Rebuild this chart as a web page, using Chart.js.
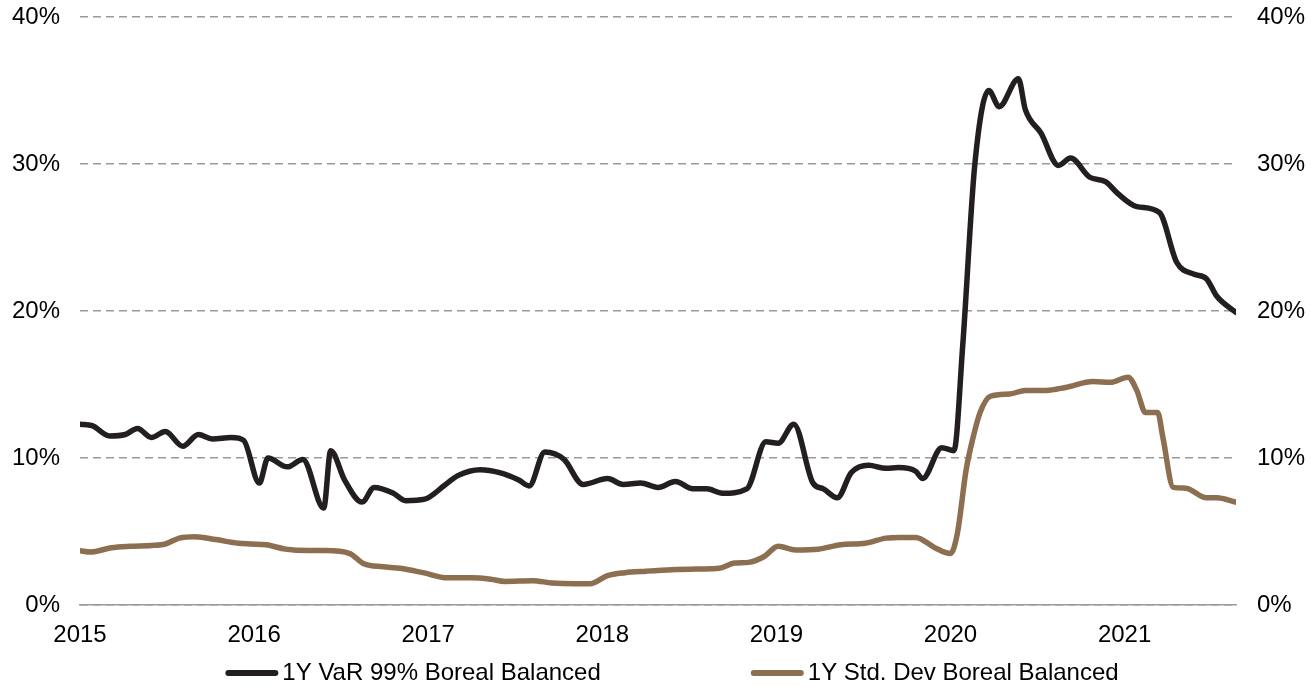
<!DOCTYPE html>
<html>
<head>
<meta charset="utf-8">
<script src="https://cdn.jsdelivr.net/npm/chart.js@4.4.0/dist/chart.umd.min.js"></script>
<style>
  html, body { margin: 0; padding: 0; background: #ffffff; }
</style>
</head>
<body>
<canvas id="chart" width="1311" height="686"></canvas>
<script>
// values (x as decimal years, y in %)
const varDates = [
  2015.00, 2015.07, 2015.17, 2015.26, 2015.33, 2015.41, 2015.49, 2015.59, 2015.68, 2015.76,
  2015.87, 2015.94, 2016.03, 2016.08, 2016.19, 2016.28, 2016.40, 2016.44, 2016.52, 2016.62,
  2016.69, 2016.80, 2016.87, 2016.98, 2017.10, 2017.17, 2017.30, 2017.41, 2017.52, 2017.58,
  2017.67, 2017.78, 2017.89, 2018.03, 2018.12, 2018.22, 2018.32, 2018.42, 2018.52, 2018.60,
  2018.69, 2018.83, 2018.94, 2019.01, 2019.10, 2019.21, 2019.27, 2019.35, 2019.43, 2019.53,
  2019.63, 2019.70, 2019.80, 2019.84, 2019.95, 2020.02, 2020.07, 2020.14, 2020.22, 2020.28,
  2020.39, 2020.43, 2020.52, 2020.62, 2020.69, 2020.80, 2020.89, 2020.96, 2021.07, 2021.20,
  2021.30, 2021.40, 2021.47, 2021.53, 2021.64
];
const varValues = [
  12.3, 12.2, 11.5, 11.6, 12.0, 11.4, 11.8, 10.8, 11.6, 11.3,
  11.4, 11.2, 8.3, 10.0, 9.4, 9.9, 6.6, 10.5, 8.5, 7.0,
  8.0, 7.6, 7.1, 7.2, 8.2, 8.8, 9.2, 9.0, 8.5, 8.1,
  10.4, 9.9, 8.2, 8.6, 8.2, 8.3, 8.0, 8.4, 7.9, 7.9,
  7.6, 7.9, 11.1, 11.0, 12.3, 8.3, 7.9, 7.3, 9.0, 9.5,
  9.3, 9.35, 9.1, 8.6, 10.7, 10.5, 17.6, 30.0, 35.0, 33.9,
  35.8, 33.7, 32.1, 29.9, 30.4, 29.1, 28.8, 28.0, 27.1, 26.7,
  23.3, 22.5, 22.2, 21.0, 19.9
];
const sdDates = [
  2015.00, 2015.06, 2015.18, 2015.29, 2015.41, 2015.49, 2015.57, 2015.66, 2015.78, 2015.91,
  2015.98, 2016.07, 2016.18, 2016.31, 2016.41, 2016.55, 2016.63, 2016.74, 2016.84, 2016.97,
  2017.11, 2017.25, 2017.36, 2017.44, 2017.60, 2017.71, 2017.84, 2017.93, 2018.03, 2018.13,
  2018.25, 2018.40, 2018.56, 2018.67, 2018.76, 2018.84, 2018.93, 2019.01, 2019.11, 2019.24,
  2019.37, 2019.51, 2019.63, 2019.71, 2019.80, 2019.91, 2020.00, 2020.04, 2020.09, 2020.13,
  2020.17, 2020.23, 2020.34, 2020.43, 2020.55, 2020.66, 2020.82, 2020.92, 2021.02, 2021.07,
  2021.12, 2021.19, 2021.22, 2021.28, 2021.35, 2021.47, 2021.53, 2021.64
];
const sdValues = [
  3.7, 3.6, 3.9, 4.0, 4.05, 4.15, 4.55, 4.65, 4.45, 4.2,
  4.15, 4.1, 3.8, 3.7, 3.7, 3.5, 2.8, 2.6, 2.5, 2.2,
  1.85, 1.85, 1.75, 1.6, 1.65, 1.5, 1.45, 1.45, 2.0, 2.2,
  2.3, 2.4, 2.45, 2.5, 2.85, 2.9, 3.3, 4.0, 3.75, 3.8,
  4.1, 4.2, 4.55, 4.6, 4.6, 3.9, 3.5, 4.9, 9.2, 11.4,
  13.1, 14.2, 14.35, 14.6, 14.6, 14.8, 15.2, 15.15, 15.5, 14.6,
  13.1, 13.1, 11.4, 8.0, 7.95, 7.3, 7.3, 7.0
];
const yearTicks = [2015, 2016, 2017, 2018, 2019, 2020, 2021];
const seriesLabels = ["1Y VaR 99% Boreal Balanced", "1Y Std. Dev Boreal Balanced"];

const FONT_FAMILY = "'Liberation Sans', Arial, sans-serif";
const FONT_SIZE = 24;
const GRID = "#9a9a9a";

const toPoints = (xs, ys) => xs.map((x, i) => ({ x: x, y: ys[i] }));

// keep the plot top at 17px, the tick padding would otherwise push it down
const fixVertical = (width) => (scale) => {
  scale.width = width;
  scale.paddingTop = 17;
  scale.paddingBottom = 0;
};

const bottomLegend = {
  id: "bottomLegend",
  afterDraw(chart) {
    const ctx = chart.ctx;
    const sets = chart.data.datasets;
    ctx.save();
    ctx.font = FONT_SIZE + "px " + FONT_FAMILY;
    const sample = 53, textGap = 4, itemGap = 150;
    const widths = sets.map(d => ctx.measureText(d.label).width);
    const total = widths.reduce((a, w) => a + sample + textGap + w, 0) + itemGap * (sets.length - 1);
    let x = 672 - total / 2;
    const y = 673;
    sets.forEach((d, i) => {
      ctx.strokeStyle = d.borderColor;
      ctx.lineWidth = 6;
      ctx.lineCap = "round";
      ctx.beginPath();
      ctx.moveTo(x + 3, y);
      ctx.lineTo(x + sample - 3, y);
      ctx.stroke();
      x += sample + textGap;
      ctx.fillStyle = "#000000";
      ctx.textBaseline = "middle";
      ctx.textAlign = "left";
      ctx.fillText(d.label, x, y);
      x += widths[i] + itemGap;
    });
    ctx.restore();
  }
};

const ctx = document.getElementById("chart").getContext("2d");
const myChart = new Chart(ctx, {
  type: "line",
  data: {
    datasets: [
      {
        label: seriesLabels[0],
        data: toPoints(varDates, varValues),
        borderColor: "#231f20",
        borderWidth: 5.5,
        borderCapStyle: "round",
        borderJoinStyle: "round",
        cubicInterpolationMode: "monotone",
        pointRadius: 0,
        fill: false,
        yAxisID: "y",
      },
      {
        label: seriesLabels[1],
        data: toPoints(sdDates, sdValues),
        borderColor: "#8b6f50",
        borderWidth: 5.5,
        borderCapStyle: "round",
        borderJoinStyle: "round",
        cubicInterpolationMode: "monotone",
        pointRadius: 0,
        fill: false,
        yAxisID: "y",
      },
    ],
  },
  options: {
    responsive: false,
    animation: false,
    layout: { padding: 0 },
    plugins: {
      legend: { display: false },
      tooltip: { enabled: false },
    },
    scales: {
      x: {
        type: "linear",
        min: 2015,
        max: 2021.64,
        afterBuildTicks: (scale) => {
          scale.ticks = yearTicks.map(v => ({ value: v }));
        },
        afterFit: (scale) => { scale.height = 81; },
        grid: { display: false },
        border: { display: true, color: GRID, width: 1.5 },
        ticks: {
          autoSkip: false,
          maxRotation: 0,
          padding: 8,
          color: "#000000",
          font: { family: FONT_FAMILY, size: FONT_SIZE },
          callback: (v) => String(v),
        },
      },
      y: {
        position: "left",
        min: 0,
        max: 40,
        afterFit: fixVertical(80),
        grid: { color: GRID, lineWidth: 1.5, drawTicks: false },
        border: { display: false, dash: [8, 5] },
        ticks: {
          stepSize: 10,
          padding: 20,
          color: "#000000",
          font: { family: FONT_FAMILY, size: FONT_SIZE },
          callback: (v) => v + "%",
        },
      },
      y2: {
        position: "right",
        min: 0,
        max: 40,
        afterFit: fixVertical(75),
        grid: { display: false, drawTicks: false },
        border: { display: false },
        ticks: {
          stepSize: 10,
          padding: 21,
          color: "#000000",
          font: { family: FONT_FAMILY, size: FONT_SIZE },
          callback: (v) => v + "%",
        },
      },
    },
  },
  plugins: [bottomLegend],
});
</script>
</body>
</html>
